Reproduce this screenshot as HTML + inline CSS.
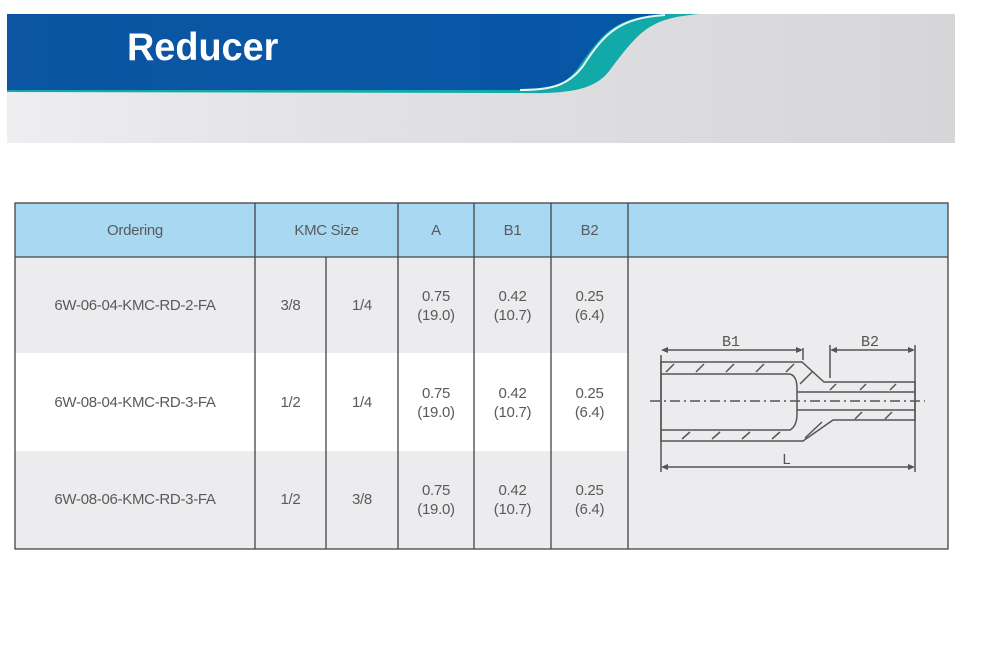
<!DOCTYPE html>
<html><head><style>
body{margin:0;width:981px;height:666px;background:#fff;position:relative;overflow:hidden;font-family:"Liberation Sans",sans-serif}
.t{position:absolute;color:#5a5a5a;font-size:15px;text-align:center;line-height:19px;letter-spacing:-0.3px}
</style></head><body>
<svg width="981" height="666" style="position:absolute;left:0;top:0">
<defs>
<linearGradient id="g" x1="0" x2="1"><stop offset="0" stop-color="#eeeef0"/><stop offset="0.35" stop-color="#e2e2e4"/><stop offset="1" stop-color="#d6d6d8"/></linearGradient>
<linearGradient id="b" x1="0" x2="1"><stop offset="0" stop-color="#0b55a2"/><stop offset="1" stop-color="#0657a6"/></linearGradient>
</defs>
<rect x="7" y="14" width="948" height="129" fill="url(#g)"/>
<path d="M7 14 L700 14 C650 18 640 30 610 70 C595 90 570 94 520 93 L7 92 Z" fill="#11aaa8"/>
<path d="M7 14 L665 14 C615 18 605 30 580 65 C565 88 545 90 520 90 L7 90 Z" fill="url(#b)"/>
<path d="M665 15 C620 18 605 32 583 66 C568 86 550 90 520 90" fill="none" stroke="#e8f6f6" stroke-width="2"/>
<text x="0" y="0" transform="translate(127 60) scale(0.97 1)" font-family="Liberation Sans" font-weight="bold" font-size="39" fill="#fff">Reducer</text>
<!-- table -->
<rect x="15" y="203" width="933" height="54" fill="#a9d8f3"/>
<rect x="15" y="257" width="613" height="96" fill="#ececee"/>
<rect x="15" y="353" width="613" height="98" fill="#fff"/>
<rect x="15" y="451" width="613" height="98" fill="#ececee"/>
<rect x="628" y="257" width="320" height="292" fill="#ececee"/>
<g stroke="#444" stroke-width="1.3" fill="none">
<rect x="15" y="203" width="933" height="346"/>
<line x1="15" y1="257" x2="948" y2="257"/>
<line x1="255" y1="203" x2="255" y2="549"/>
<line x1="326" y1="257" x2="326" y2="549"/>
<line x1="398" y1="203" x2="398" y2="549"/>
<line x1="474" y1="203" x2="474" y2="549"/>
<line x1="551" y1="203" x2="551" y2="549"/>
<line x1="628" y1="203" x2="628" y2="549"/>
</g>
<!-- drawing -->
<g stroke="#555" stroke-width="1.5" fill="none">
<path d="M661 362 L802 362 L824 382 L915 382 L915 420 L833 420 L803 441 L661 441 Z"/>
<path d="M661 374 L790 374 Q797 376 797 388 L797 414 Q797 426 790 430 L661 430"/>
<path d="M797 392 L915 392 M797 410 L915 410"/>
<path d="M661 355 V472 M803 348 V360 M830 345 V378 M915 345 V472"/>
<path d="M663 350 L801 350 M832 350 L913 350 M663 467 L913 467"/>
<path d="M650 401 L925 401" stroke-dasharray="10 4 2 4"/>
<path d="M666 372 L674 364 M696 372 L704 364 M726 372 L734 364 M756 372 L764 364 M786 372 L794 364 M800 384 L812 372 M830 390 L836 384 M860 390 L866 384 M890 390 L896 384 M682 439 L690 432 M712 439 L720 432 M742 439 L750 432 M772 439 L780 432 M805 438 L822 422 M855 419 L862 412 M885 419 L892 412"/>
</g>
<g fill="#555"><path d="M661 350 l7 -3 v6z M803 350 l-7 -3 v6z M830 350 l7 -3 v6z M915 350 l-7 -3 v6z M661 467 l7 -3 v6z M915 467 l-7 -3 v6z"/></g>
<g font-family="Liberation Mono" font-size="15" fill="#555"><text x="722" y="346">B1</text><text x="861" y="346">B2</text><text x="782" y="464">L</text></g>
</svg>
<div class="t" style="left:15px;top:221px;width:240px">Ordering</div>
<div class="t" style="left:255px;top:221px;width:143px">KMC Size</div>
<div class="t" style="left:398px;top:221px;width:76px">A</div>
<div class="t" style="left:474px;top:221px;width:77px">B1</div>
<div class="t" style="left:551px;top:221px;width:77px">B2</div>

<div class="t" style="left:15px;top:296px;width:240px">6W-06-04-KMC-RD-2-FA</div>
<div class="t" style="left:255px;top:296px;width:71px">3/8</div>
<div class="t" style="left:326px;top:296px;width:72px">1/4</div>
<div class="t" style="left:398px;top:287px;width:76px">0.75<br>(19.0)</div>
<div class="t" style="left:474px;top:287px;width:77px">0.42<br>(10.7)</div>
<div class="t" style="left:551px;top:287px;width:77px">0.25<br>(6.4)</div>

<div class="t" style="left:15px;top:393px;width:240px">6W-08-04-KMC-RD-3-FA</div>
<div class="t" style="left:255px;top:393px;width:71px">1/2</div>
<div class="t" style="left:326px;top:393px;width:72px">1/4</div>
<div class="t" style="left:398px;top:384px;width:76px">0.75<br>(19.0)</div>
<div class="t" style="left:474px;top:384px;width:77px">0.42<br>(10.7)</div>
<div class="t" style="left:551px;top:384px;width:77px">0.25<br>(6.4)</div>

<div class="t" style="left:15px;top:490px;width:240px">6W-08-06-KMC-RD-3-FA</div>
<div class="t" style="left:255px;top:490px;width:71px">1/2</div>
<div class="t" style="left:326px;top:490px;width:72px">3/8</div>
<div class="t" style="left:398px;top:481px;width:76px">0.75<br>(19.0)</div>
<div class="t" style="left:474px;top:481px;width:77px">0.42<br>(10.7)</div>
<div class="t" style="left:551px;top:481px;width:77px">0.25<br>(6.4)</div>
</body></html>
